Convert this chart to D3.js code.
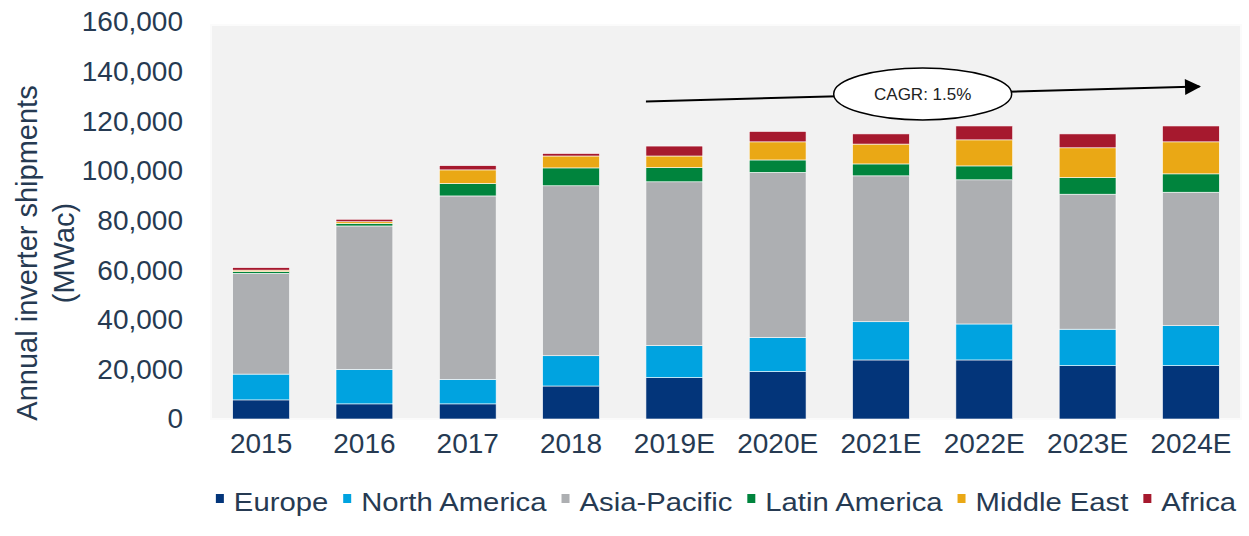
<!DOCTYPE html>
<html lang="en">

<head>
    <meta charset="UTF-8">
    <title>Annual inverter shipments</title>
    <style>
        body { margin: 0; background: #fff; }
        text { font-family: Arial, "Liberation Sans", sans-serif; }
    </style>
</head>

<body>
    <svg width="1249" height="536"></svg>
    <script src="https://d3js.org/d3.v7.min.js"></script>
    <script>

        // values (MWac)
        let years = ["2015", "2016", "2017", "2018", "2019E", "2020E", "2021E", "2022E", "2023E", "2024E"];
        let regions = ["Europe", "North America", "Asia-Pacific", "Latin America", "Middle East", "Africa"];
        let colors = ["#03357a", "#00a3e0", "#adafb2", "#00843d", "#eaa815", "#a6192e"];

        let europe = [7700, 6100, 6100, 13300, 16700, 19100, 23800, 23800, 21500, 21500];
        let northAmerica = [10400, 13900, 9900, 12200, 12900, 13800, 15400, 14500, 14700, 16100];
        let asiaPacific = [40600, 57800, 73900, 68500, 66000, 66500, 58800, 58100, 54400, 53800];
        let latinAmerica = [700, 1000, 5000, 7200, 5700, 5000, 4800, 5600, 6700, 7400];
        let middleEast = [600, 700, 5500, 4800, 4700, 7300, 8000, 10500, 12000, 12900];
        let africa = [1000, 1000, 1700, 1000, 4000, 4200, 4100, 5600, 5600, 6400];

        let yTicks = [0, 20000, 40000, 60000, 80000, 100000, 120000, 140000, 160000];

        let cagrLabel = "CAGR: 1.5%";
        let cagrFrom = { year: "2019E", value: 128000 };
        let cagrTo = { year: "2024E", value: 134000 };

        let series = [europe, northAmerica, asiaPacific, latinAmerica, middleEast, africa];
        let rows = years.map((yr, i) => {
            let r = { year: yr };
            regions.forEach((k, j) => r[k] = series[j][i]);
            return r;
        });

        let svg = d3.select("svg"),
            plot = { left: 211, right: 1241, top: 25, bottom: 419 },
            textColor = "#263a52";

        let x = d3.scaleBand()
            .domain(years)
            .range([plot.left, plot.right])
            .paddingInner(0.45)
            .paddingOuter(0.21);
        let y = d3.scaleLinear()
            .domain([0, 160000])
            .range([plot.bottom, 22]);

        // plot background
        svg.append("rect")
            .attr("x", plot.left)
            .attr("y", plot.top)
            .attr("width", plot.right - plot.left)
            .attr("height", plot.bottom - plot.top)
            .attr("fill", "#f2f2f2")
            .attr("stroke", "#fbfbfb")
            .attr("stroke-width", 2);

        let stack = d3.stack().keys(regions)(rows);

        svg.append("g")
            .selectAll("g")
            .data(stack)
            .join("g")
            .attr("fill", (d, i) => colors[i])
            .selectAll("rect")
            .data(d => d)
            .join("rect")
            .attr("x", d => x(d.data.year))
            .attr("y", d => y(d[1]))
            .attr("width", x.bandwidth())
            .attr("height", d => y(d[0]) - y(d[1]))
            .attr("stroke", "#fff")
            .attr("stroke-width", 0.6);

        // y axis
        let yAxis = svg.append("g")
            .attr("transform", "translate(" + (plot.left - 24) + ",0)")
            .call(d3.axisLeft(y).tickValues(yTicks).tickSize(0).tickPadding(4).tickFormat(d3.format(",")));
        yAxis.select(".domain").remove();
        yAxis.selectAll("text")
            .attr("fill", textColor)
            .style("font-size", "28px")
            .style("font-family", "Arial, 'Liberation Sans', sans-serif");

        // x axis
        let xAxis = svg.append("g")
            .attr("transform", "translate(0," + plot.bottom + ")")
            .call(d3.axisBottom(x).tickSize(0).tickPadding(14));
        xAxis.select(".domain").remove();
        xAxis.selectAll("text")
            .attr("fill", textColor)
            .attr("dy", "0.71em")
            .style("font-size", "28px")
            .style("font-family", "Arial, 'Liberation Sans', sans-serif");

        // y title
        let title = svg.append("text")
            .attr("transform", "translate(0," + ((plot.top + plot.bottom) / 2 + 31) + ") rotate(-90)")
            .attr("text-anchor", "middle")
            .attr("fill", textColor)
            .style("font-size", "29px");
        title.append("tspan").attr("x", 0).attr("y", 37).text("Annual inverter shipments");
        title.append("tspan").attr("x", 0).attr("y", 74).text("(MWac)");

        // CAGR arrow
        svg.append("defs").append("marker")
            .attr("id", "arrow")
            .attr("viewBox", "0 0 10 10")
            .attr("refX", 9)
            .attr("refY", 5)
            .attr("markerWidth", 9)
            .attr("markerHeight", 8)
            .attr("markerUnits", "strokeWidth")
            .attr("orient", "auto")
            .append("path")
            .attr("d", "M0,0L10,5L0,10Z")
            .attr("fill", "#000");

        let ax1 = x(cagrFrom.year), ay1 = y(cagrFrom.value),
            ax2 = x(cagrTo.year) + x.bandwidth() * 0.65, ay2 = y(cagrTo.value);
        svg.append("line")
            .attr("x1", ax1).attr("y1", ay1)
            .attr("x2", ax2).attr("y2", ay2)
            .attr("stroke", "#000")
            .attr("stroke-width", 2)
            .attr("marker-end", "url(#arrow)");

        let cx = (ax1 + ax2) / 2, cy = (ay1 + ay2) / 2;
        svg.append("ellipse")
            .attr("cx", cx).attr("cy", cy)
            .attr("rx", 89).attr("ry", 26)
            .attr("fill", "#fff")
            .attr("stroke", "#000")
            .attr("stroke-width", 1.5);
        svg.append("text")
            .attr("x", cx).attr("y", cy)
            .attr("dy", "0.35em")
            .attr("text-anchor", "middle")
            .attr("fill", "#222")
            .style("font-size", "17px")
            .text(cagrLabel);

        // legend
        let legend = svg.append("g").attr("transform", "translate(0,511)");
        let items = legend.selectAll("g")
            .data(regions)
            .join("g");
        items.append("rect")
            .attr("y", -17)
            .attr("width", 8)
            .attr("height", 9)
            .attr("fill", (d, i) => colors[i]);
        items.append("text")
            .attr("x", 18)
            .attr("fill", textColor)
            .style("font-size", "25px")
            .text(d => d)
            .each(function () {
                let w = this.getComputedTextLength();
                d3.select(this).attr("textLength", w * 1.17).attr("lengthAdjust", "spacingAndGlyphs");
            });
        let pos = 0, offsets = [];
        items.each(function () {
            let w = 18 + (+d3.select(this).select("text").attr("textLength"));
            offsets.push(pos);
            pos += w + 15;
        });
        let total = pos - 15,
            start = (plot.left + plot.right) / 2 - total / 2;
        items.attr("transform", (d, i) => "translate(" + (start + offsets[i]) + ",0)");

    </script>

</body>

</html>
